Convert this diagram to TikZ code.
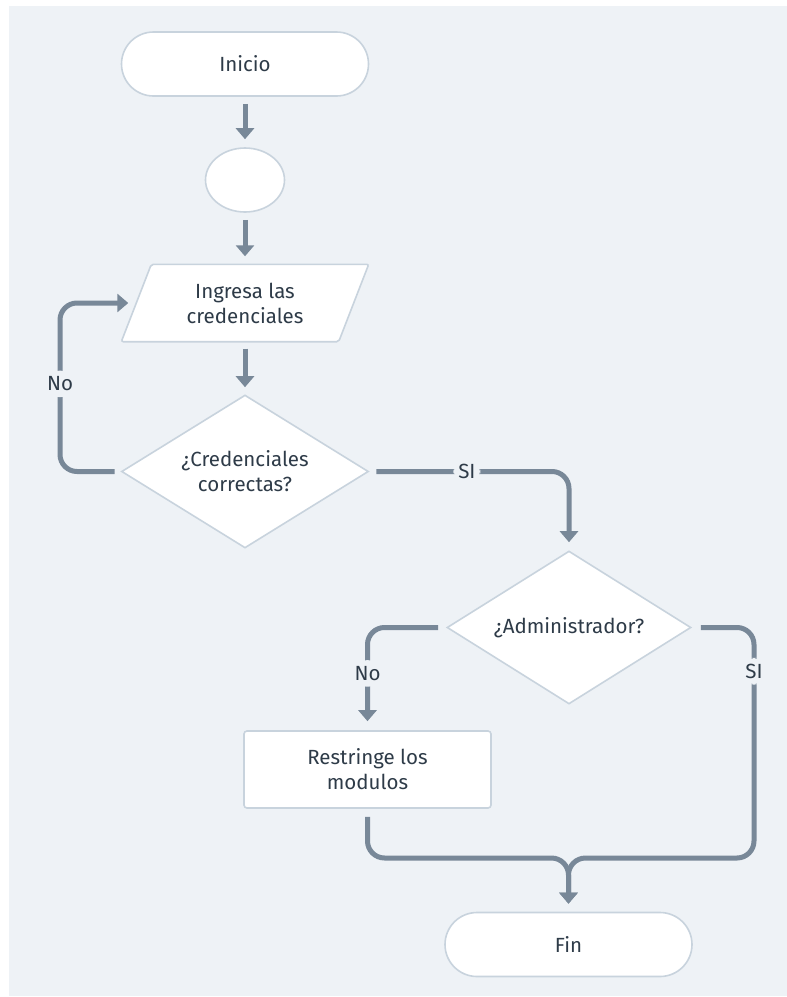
\documentclass[tikz,border=0pt]{standalone}
\usepackage{fontspec}
\setmainfont{Fira Sans}
\usetikzlibrary{shapes.geometric,arrows.meta}
\definecolor{bgcol}{HTML}{EEF2F6}
\definecolor{linecol}{HTML}{788898}
\definecolor{edgecol}{HTML}{C8D3DD}
\definecolor{inkcol}{HTML}{2E3B48}
\tikzset{
  box/.style={draw=edgecol, line width=1.6pt, fill=white, text=inkcol,
    font=\fontsize{20.5}{25}\selectfont, align=center, inner sep=0pt},
  terminal/.style={box, rectangle, rounded corners=32pt, minimum width=247pt, minimum height=64pt},
  blank/.style={box, ellipse, minimum width=79pt, minimum height=64pt},
  process/.style={box, rectangle, rounded corners=3pt, minimum width=247pt, minimum height=77pt},
  decision/.style={box, diamond, aspect=1.6, minimum width=247pt, minimum height=153pt},
  ioframe/.style={rectangle, inner sep=0pt, minimum width=247pt, minimum height=77pt,
    text=inkcol, font=\fontsize{20.5}{25}\selectfont, align=center},
  conn/.style={draw=linecol, line width=5pt, rounded corners=17pt,
    -{Triangle[width=18pt,length=11pt]}},
  lbl/.style={fill=bgcol, text=inkcol, font=\fontsize{20.5}{20}\selectfont,
    inner xsep=5pt, inner ysep=6pt}
}
\begin{document}
\begin{tikzpicture}[x=1pt,y=-1pt]
  \useasboundingbox (0,0) rectangle (787,997);
  \fill[white] (0,0) rectangle (787,997);
  \fill[bgcol] (9,6) rectangle (787,996);

  % nodes
  \node[terminal] (inicio) at (245,64) {Inicio};
  \node[blank] (conector) at (245,180) {};
  \node[ioframe] (ingreso) at (245,303) {};
  \fill[white, draw=edgecol, line width=1.6pt, rounded corners=2pt]
    (ingreso.south west) -- ([xshift=30pt]ingreso.north west)
    -- (ingreso.north east) -- ([xshift=-30pt]ingreso.south east) -- cycle;
  \node[ioframe] at (ingreso) {Ingresa las\\credenciales};
  \node[decision] (valida) at (245,471.5) {¿Credenciales\\correctas?};
  \node[decision, minimum width=244pt] (admin) at (569,627.5) {¿Administrador?};
  \node[process] (restringe) at (367.5,769.5) {Restringe los\\modulos};
  \node[terminal] (fin) at (568.5,944.5) {Fin};

  % helper points (y axis points down, so a positive yshift moves up)
  \coordinate (loopL) at (60,0);
  \coordinate (siR) at (754,0);
  \coordinate (join) at (0,858);

  % connectors
  \draw[conn] ([yshift=-7pt]inicio.south) -- ([yshift=8pt]conector.north);
  \draw[conn] ([yshift=-7pt]conector.south) -- ([yshift=8pt]ingreso.north);
  \draw[conn] ([yshift=-7pt]ingreso.south) -- ([yshift=7pt]valida.north);
  \draw[conn] ([xshift=-6pt]valida.west) -- (valida.west -| loopL)
    -- node[lbl, pos=0.52] {No} (ingreso.west -| loopL) -- ([xshift=7pt]ingreso.west);
  \draw[conn] ([xshift=7pt]valida.east) -- node[lbl, pos=0.47] {SI} (valida.east -| admin.north)
    -- ([yshift=8pt]admin.north);
  \draw[conn] ([xshift=-8pt]admin.west) -- (admin.west -| restringe.north)
    -- node[lbl, pos=0.49] {No} ([yshift=9pt]restringe.north);
  \draw[conn] ([xshift=9pt]admin.east) -- (admin.east -| siR)
    -- node[lbl, pos=0.19] {SI} (join -| siR) -- (join -| fin.north) -- ([yshift=8pt]fin.north);
  \draw[conn] ([yshift=-8pt]restringe.south) -- (join -| restringe.south)
    -- (join -| fin.north) -- ([yshift=8pt]fin.north);
\end{tikzpicture}
\end{document}
